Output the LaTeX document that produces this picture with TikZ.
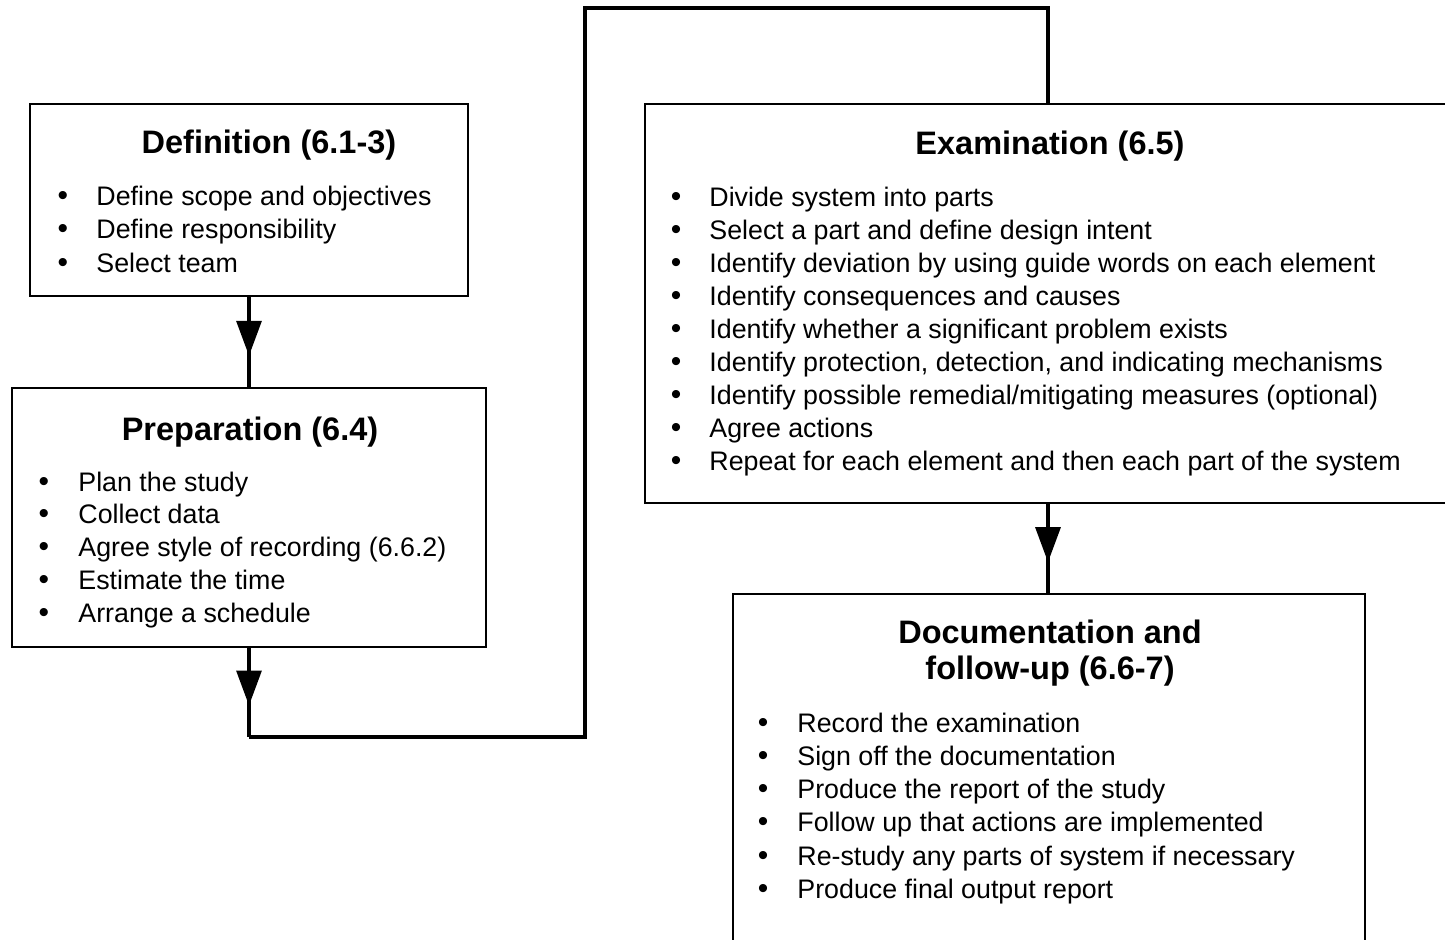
\documentclass[tikz,border=0pt]{standalone}
\usepackage{fontspec}
\setmainfont{Liberation Sans}
\usetikzlibrary{arrows.meta,decorations.markings,fit}

\begin{document}
\begin{tikzpicture}[x=0.5pt,y=-0.5pt,
  box/.style={draw, line width=1.1pt, inner sep=0pt, outer sep=0pt},
  ttl/.style={anchor=base, inner sep=0pt, font=\bfseries\fontsize{16.25}{19}\selectfont},
  itm/.style={anchor=base west, inner sep=0pt, font=\fontsize{13.4}{16}\selectfont},
  dot/.style={anchor=base, inner sep=0pt, font=\fontsize{15}{16}\selectfont},
  flow/.style={line width=1.6pt, postaction={decorate},
    decoration={markings, mark=at position 0.65 with {\arrow{Triangle[width=12.5pt,length=17.5pt]}}}},
  link/.style={line width=2pt, line join=miter}]

\useasboundingbox (0,0) rectangle (1445,939);
\clip (0,0) rectangle (1445,939);

% boxes
\node[box, fit={(30,104) (468,296)}] (def) {};
\node[box, fit={(12,388) (486,647)}] (prep) {};
\node[box, fit={(645,104) (1451,503)}] (exam) {};
\node[box, fit={(733,594) (1365,960)}] (doc) {};

% titles
\node[ttl] (def-title) at (269,153) {Definition (6.1-3)};
\node[ttl] (prep-title) at (250,440) {Preparation (6.4)};
\node[ttl] (exam-title) at (1050,154) {Examination (6.5)};
\node[ttl] (doc-title1) at (1050,643) {Documentation and};
\node[ttl] (doc-title2) at (1050,679) {follow-up (6.6-7)};

% bullet lists
\foreach \t [count=\i] in {Define scope and objectives, Define responsibility, Select team}{
  \node[dot] (def-b\i) at (63,{205+(\i-1)*33.5}) {\textbullet};
  \node[itm] (def-t\i) at (96,{205+(\i-1)*33.5}) {\t};
}
\foreach \t [count=\i] in {Plan the study, Collect data, Agree style of recording (6.6.2),
    Estimate the time, Arrange a schedule}{
  \node[dot] (prep-b\i) at (44,{491+(\i-1)*32.75}) {\textbullet};
  \node[itm] (prep-t\i) at (78,{491+(\i-1)*32.75}) {\t};
}
\foreach \t [count=\i] in {Divide system into parts, Select a part and define design intent,
    Identify deviation by using guide words on each element,
    Identify consequences and causes, Identify whether a significant problem exists,
    {Identify protection, detection, and indicating mechanisms},
    Identify possible remedial/mitigating measures (optional), Agree actions,
    Repeat for each element and then each part of the system}{
  \node[dot] (exam-b\i) at (676,{206+(\i-1)*33.1}) {\textbullet};
  \node[itm] (exam-t\i) at (709,{206+(\i-1)*33.1}) {\t};
}
\foreach \t [count=\i] in {Record the examination, Sign off the documentation,
    Produce the report of the study, Follow up that actions are implemented,
    Re-study any parts of system if necessary, Produce final output report}{
  \node[dot] (doc-b\i) at (763,{732+(\i-1)*33.3}) {\textbullet};
  \node[itm] (doc-t\i) at (797,{732+(\i-1)*33.3}) {\t};
}

% connectors
\coordinate (bend) at (249,737);
\coordinate (top) at (585,8);
\draw[flow] (def.south) -- (prep.north);
\draw[flow] (prep.south) -- (bend);
\draw[link] (bend) -| (top) -| (exam.north);
\draw[flow] (exam.south) -- (doc.north -| exam.south);
\end{tikzpicture}
\end{document}
